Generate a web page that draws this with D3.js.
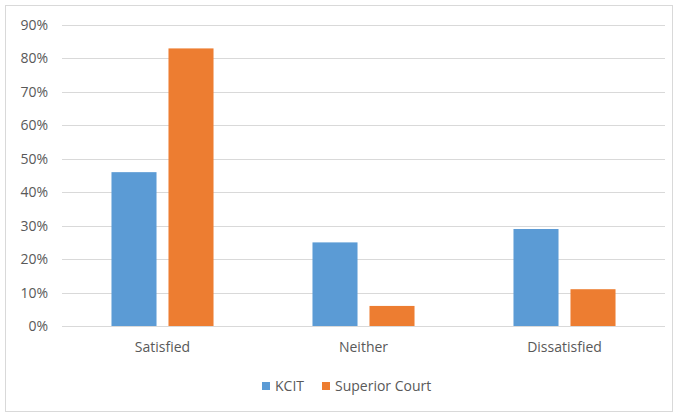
<!DOCTYPE html>
<html>
<head>
<meta charset="utf-8">
<title>Satisfaction</title>
<style>
body { margin: 0; background: #fff; }
svg { display: block; }
text { font-family: "Open Sans", sans-serif; fill: #595959; }
</style>
<script src="https://d3js.org/d3.v7.min.js"></script>
</head>
<body>
<div id="result"></div>
<script>
var categories = ['Satisfied', 'Neither', 'Dissatisfied']
var seriesNames = ['KCIT', 'Superior Court']
var kcit = [0.46, 0.25, 0.29]
var superior = [0.83, 0.06, 0.11]
var yTicks = [0, 0.1, 0.2, 0.3, 0.4, 0.5, 0.6, 0.7, 0.8, 0.9]
var colors = ['#5b9bd5', '#ed7d31']

var W = 678, H = 414
var m = {left: 62, right: 13, top: 25, bottom: 88}

var svg = d3.select('#result').append('svg').attr('width', W).attr('height', H)

svg.append('rect').attr('x', 5.5).attr('y', 5.5).attr('width', 667).attr('height', 406)
  .attr('fill', '#fff').attr('stroke', '#d9d9d9')

var x = d3.scaleBand().domain(categories).range([m.left, W - m.right]).paddingInner(0).paddingOuter(0)
var y = d3.scaleLinear().domain([0, 0.9]).range([H - m.bottom, m.top])

// gridlines
svg.append('g').selectAll('line').data(yTicks).enter().append('line')
  .attr('x1', m.left).attr('x2', W - m.right)
  .attr('y1', d => Math.round(y(d)) + 0.5).attr('y2', d => Math.round(y(d)) + 0.5)
  .attr('stroke', '#d9d9d9').attr('stroke-width', 1)

// y labels
var yAxis = d3.axisLeft(y).tickValues(yTicks).tickFormat(d3.format('.0%')).tickSize(0).tickPadding(14)
var ya = svg.append('g').attr('transform', 'translate(' + m.left + ',0)').call(yAxis)
ya.select('.domain').remove()
ya.selectAll('text').style('font-size', '14px').style('font-family', '"Open Sans", sans-serif').attr('fill', '#595959')

// bars
var sub = d3.scaleBand().domain(seriesNames).range([0, x.bandwidth()]).paddingInner(0.21).paddingOuter(0.868)
var rows = categories.map((c, i) => ({cat: c, vals: [kcit[i], superior[i]]}))

var g = svg.selectAll('g.cat').data(rows).enter().append('g').attr('class', 'cat')
  .attr('transform', d => 'translate(' + x(d.cat) + ',0)')
g.selectAll('rect').data(d => d.vals.map((v, j) => ({name: seriesNames[j], v: v, j: j}))).enter().append('rect')
  .attr('x', d => sub(d.name))
  .attr('width', sub.bandwidth())
  .attr('y', d => y(d.v))
  .attr('height', d => y(0) - y(d.v))
  .attr('fill', d => colors[d.j])

// x labels
var xAxis = d3.axisBottom(x).tickSize(0).tickPadding(16)
var xa = svg.append('g').attr('transform', 'translate(0,' + y(0) + ')').call(xAxis)
xa.select('.domain').remove()
xa.selectAll('text').style('font-size', '14px').style('font-family', '"Open Sans", sans-serif').attr('fill', '#595959')

// legend
var legX = [262, 322]
var leg = svg.selectAll('g.leg').data(seriesNames).enter().append('g').attr('class', 'leg')
  .attr('transform', (d, i) => 'translate(' + legX[i] + ',386)')
leg.append('rect').attr('x', 0).attr('y', -4).attr('width', 8).attr('height', 8).attr('fill', (d, i) => colors[i])
leg.append('text').attr('x', 13).attr('y', 0).attr('dy', '0.35em').style('font-size', '14px').text(d => d)
</script>
</body>
</html>
